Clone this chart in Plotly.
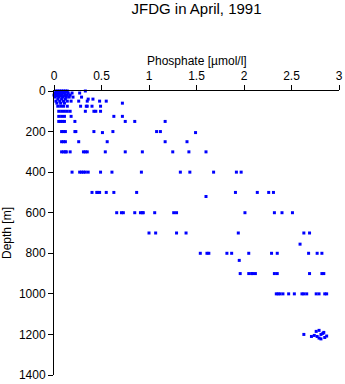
import plotly.graph_objects as go

# Depth [m] and phosphate [umol/l]
depth_m = [
    0, 0, 0, 0, 0, 0, 0, 0,
    5, 5, 5, 5,
    10, 10, 10, 10, 10, 10, 10, 10, 10,
    20, 20, 20, 20, 20, 20, 20, 20,
    25, 25, 25,
    30, 30, 30, 30, 30, 30, 30,
    40, 40, 40, 40, 40,
    50, 50, 50, 50, 50, 50, 50, 50, 50,
    60, 60, 60, 60,
    75, 75, 75, 75, 75, 75, 75, 75, 75,
    100, 100, 100, 100, 100, 100, 100, 100, 100,
    125, 125, 125, 125, 125, 125,
    150, 150, 150, 150, 150, 150, 150, 150,
    200, 200, 200, 200, 200, 200, 200, 200, 200,
    205, 205,
    250, 250, 250, 250, 250, 250, 250,
    300, 300, 300, 300, 300, 300, 300, 300, 300, 300, 300, 300, 300, 300,
    400, 400, 400, 400, 400, 400, 400, 400, 400, 400, 400, 400, 400, 400,
    500, 500, 500, 500, 500, 500, 500, 500, 500, 500, 500,
    520,
    600, 600, 600, 600, 600, 600, 600, 600, 600, 600, 600, 600, 600, 600,
    700, 700, 700, 700, 700, 700, 700,
    755,
    800, 800, 800, 800, 800, 800, 800, 800, 800, 800, 800,
    835,
    900, 900, 900, 900, 900, 900, 900, 900, 900, 900,
    1000, 1000, 1000, 1000, 1000, 1000, 1000, 1000, 1000, 1000, 1000, 1000, 1000,
    1200, 1210, 1185, 1180, 1200, 1195, 1210, 1218, 1222, 1215, 1208, 1205, 1190,
]
phosphate_umol = [
    0.02, 0.04, 0.06, 0.08, 0.10, 0.12, 0.14, 0.33,
    0.03, 0.05, 0.09, 0.13,
    0.01, 0.03, 0.05, 0.07, 0.09, 0.11, 0.15, 0.19, 0.27,
    0.00, 0.02, 0.04, 0.06, 0.08, 0.12, 0.14, 0.17,
    0.03, 0.07, 0.10,
    0.01, 0.05, 0.09, 0.13, 0.16, 0.20, 0.29,
    0.04, 0.08, 0.12, 0.36, 0.41,
    0.02, 0.06, 0.10, 0.14, 0.18, 0.26, 0.35, 0.48, 0.55,
    0.03, 0.07, 0.11, 0.72,
    0.04, 0.07, 0.10, 0.14, 0.28, 0.34, 0.35, 0.40, 0.49,
    0.05, 0.08, 0.11, 0.14, 0.17, 0.33, 0.42, 0.44, 0.49,
    0.05, 0.08, 0.11, 0.18, 0.63, 0.72,
    0.05, 0.07, 0.09, 0.11, 0.22, 0.75, 0.85, 1.17,
    0.08, 0.10, 0.12, 0.22, 0.23, 0.42, 0.62, 1.08, 1.12,
    0.51, 1.49,
    0.08, 0.10, 0.12, 0.26, 0.56, 1.17, 1.40,
    0.08, 0.10, 0.12, 0.13, 0.17, 0.31, 0.33, 0.35, 0.54, 0.75, 0.93, 1.25, 1.42, 1.60,
    0.19, 0.27, 0.29, 0.31, 0.33, 0.36, 0.49, 0.61, 0.92, 1.33, 1.43, 1.68, 1.92, 1.97,
    0.40, 0.45, 0.46, 0.48, 0.55, 0.63, 0.87, 1.91, 2.14, 2.26, 2.31,
    1.60,
    0.66, 0.71, 0.73, 0.85, 0.91, 0.93, 0.94, 1.06, 1.26, 1.29, 2.01, 2.32, 2.40, 2.51,
    1.00, 1.07, 1.29, 1.39, 1.94, 2.63, 2.69,
    2.59,
    1.54, 1.61, 1.63, 1.82, 1.87, 2.05, 2.29, 2.35, 2.68, 2.77, 2.82,
    1.95,
    1.96, 2.05, 2.08, 2.09, 2.12, 2.32, 2.35, 2.69, 2.82, 2.84,
    2.34, 2.36, 2.38, 2.41, 2.47, 2.53, 2.61, 2.63, 2.66, 2.76, 2.79, 2.85, 2.87,
    2.63, 2.71, 2.76, 2.79, 2.81, 2.83, 2.77, 2.79, 2.81, 2.85, 2.87, 2.74, 2.84,
]

x_ticks = [0, 0.5, 1, 1.5, 2, 2.5, 3]
x_tick_labels = ["0", "0.5", "1", "1.5", "2", "2.5", "3"]
y_ticks = [0, 200, 400, 600, 800, 1000, 1200, 1400]

FONT = "Liberation Sans, Arial, Helvetica, sans-serif"

fig = go.Figure(
    go.Scatter(
        x=phosphate_umol,
        y=depth_m,
        mode="markers",
        marker=dict(symbol="square", size=3, color="#0000ff", line=dict(width=0)),
        cliponaxis=False,
        hoverinfo="x+y",
    )
)

fig.update_layout(
    width=345,
    height=384,
    margin=dict(l=54, r=6, t=91, b=9, autoexpand=False),
    paper_bgcolor="white",
    plot_bgcolor="white",
    showlegend=False,
    font=dict(family=FONT, size=12, color="black"),
    title=dict(
        text="JFDG in April, 1991",
        x=0.5,
        xref="paper",
        xanchor="center",
        y=1 - 8.5 / 384,
        yref="container",
        yanchor="middle",
        font=dict(family=FONT, size=15, color="black"),
    ),
    xaxis=dict(
        side="top",
        range=[0, 3],
        automargin=False,
        tickmode="array",
        tickvals=x_ticks,
        ticktext=x_tick_labels,
        ticks="outside",
        ticklen=5,
        tickcolor="black",
        tickwidth=1,
        showline=True,
        linecolor="black",
        linewidth=1,
        showgrid=False,
        zeroline=False,
        tickfont=dict(size=12),
    ),
    yaxis=dict(
        range=[1400, 0],
        automargin=False,
        tickmode="array",
        tickvals=y_ticks,
        ticks="outside",
        ticklen=5,
        tickcolor="black",
        tickwidth=1,
        showline=True,
        linecolor="black",
        linewidth=1,
        showgrid=False,
        zeroline=False,
        tickfont=dict(size=12),
        title=dict(text="Depth [m]", font=dict(size=12), standoff=6),
    ),
    annotations=[
        dict(
            text="Phosphate [µmol/l]",
            xref="paper",
            yref="paper",
            x=0.5,
            y=1 + 30 / 284,
            xanchor="center",
            yanchor="middle",
            showarrow=False,
            font=dict(family=FONT, size=12, color="black"),
        )
    ],
)

fig.write_html("out.html")
